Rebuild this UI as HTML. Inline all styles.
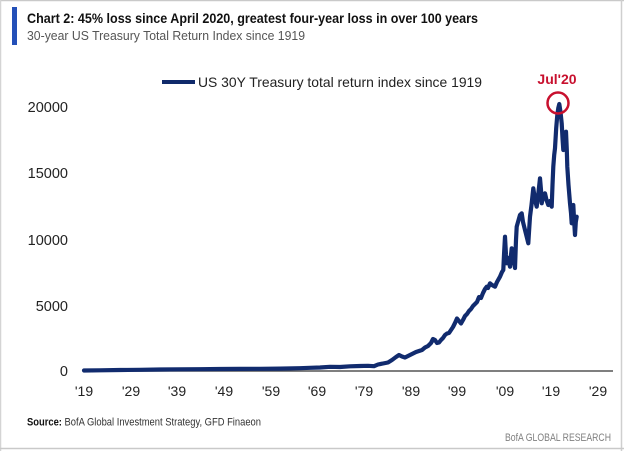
<!DOCTYPE html>
<html><head><meta charset="utf-8"><style>
html,body{margin:0;padding:0;background:#fff;}
svg{display:block;}
</style></head><body>
<svg width="624" height="451" viewBox="0 0 624 451" xmlns="http://www.w3.org/2000/svg">
<rect x="0" y="0" width="624" height="451" fill="#fff"/>
<!-- frame -->
<line x1="0" y1="0.5" x2="624" y2="0.5" stroke="#c9c9c9" stroke-width="1.5"/>
<line x1="0.5" y1="0" x2="0.5" y2="451" stroke="#d4d4d4" stroke-width="1.5"/>
<line x1="621.5" y1="0" x2="621.5" y2="451" stroke="#cfcfcf" stroke-width="1.5"/>
<line x1="0" y1="448.5" x2="624" y2="448.5" stroke="#c9c9c9" stroke-width="1.5"/>
<!-- title -->
<rect x="12" y="7" width="5" height="38" fill="#2450b8"/>
<text x="27" y="23" font-family="Liberation Sans, sans-serif" font-weight="bold" font-size="13.5" fill="#111" textLength="451" lengthAdjust="spacingAndGlyphs">Chart 2: 45% loss since April 2020, greatest four-year loss in over 100 years</text>
<text x="27" y="40" font-family="Liberation Sans, sans-serif" font-size="12.5" fill="#555" textLength="278" lengthAdjust="spacingAndGlyphs">30-year US Treasury Total Return Index since 1919</text>
<!-- legend -->
<line x1="162" y1="82" x2="195" y2="82" stroke="#102a6b" stroke-width="4"/>
<text x="198" y="87" font-family="Liberation Sans, sans-serif" font-size="14" fill="#222" textLength="284" lengthAdjust="spacingAndGlyphs">US 30Y Treasury total return index since 1919</text>
<!-- y labels -->
<g font-family="Liberation Sans, sans-serif" font-size="14.5" fill="#222" text-anchor="end">
<text x="68" y="112">20000</text>
<text x="68" y="178">15000</text>
<text x="68" y="245">10000</text>
<text x="68" y="311">5000</text>
<text x="68" y="376">0</text>
</g>
<!-- baseline -->
<line x1="83" y1="371" x2="613" y2="371" stroke="#555" stroke-width="1.5"/>
<!-- x labels -->
<g font-family="Liberation Sans, sans-serif" font-size="14" fill="#222" text-anchor="middle">
<text x="84" y="396">'19</text>
<text x="131" y="396">'29</text>
<text x="177" y="396">'39</text>
<text x="224" y="396">'49</text>
<text x="271" y="396">'59</text>
<text x="317" y="396">'69</text>
<text x="364" y="396">'79</text>
<text x="411" y="396">'89</text>
<text x="457" y="396">'99</text>
<text x="505" y="396">'09</text>
<text x="551" y="396">'19</text>
<text x="598" y="396">'29</text>
</g>
<!-- series -->
<polyline fill="none" stroke="#112b6e" stroke-width="4.2" stroke-linejoin="round" stroke-linecap="round" points="84,370.5 100,370.3 120,370 140,369.8 160,369.5 180,369.3 200,369.2 220,369 240,368.9 260,368.8 280,368.6 300,368.2 310,367.8 320,367.5 330,366.8 340,367 350,366.3 360,366 368,365.8 374,366.2 378,364.5 383,363.5 388,362.5 392,360 396,357 399,355 402,356.5 405,357.5 408,356 412,354 416,352 419,351 422,350 425,347.5 428,346 431,343 433,339 435,340 437,343 439,342.5 441,340 443,338 445,335 447,333.5 449,333 451,330 453,327 455,323 457,318.5 459,321 461,323.5 463,320 465,316 467,314 469,311 471,309 473,306 475,304 477,302 479,297 481,298 483,293 485,289 486.7,286.7 488,288 490,283.3 492,285 495,286.7 497,282 500,276.7 502,272 503.3,270 504,255 505,236.7 506,255 506.7,263.3 508.3,258 509,262 510,266.7 511,255 511.7,248.3 512.5,252 513.3,256.7 514,262 515,268 516,240 516.7,226.7 518,222 520,215 521.7,213.3 523,222 525,230 527,238 528.3,243.3 529,232 530,216.7 531.5,205 533.3,188.3 535,200 536.7,206.7 538.5,192 540,178.3 541,190 541.7,203.3 543,197 545,193.3 546.5,200 548.3,205 550,201 551.7,206.7 552.5,185 553.3,166.7 554.2,155 555,148.3 556.2,128 557.3,115 558.3,108 559.3,104 560.5,112 561.7,123.3 562.5,138 563.3,150 564.5,138 566,131.7 566.8,150 567.3,166.7 568.5,185 570,203.3 571,213 571.7,223.3 572.5,212 573.3,205 574.2,222 575,235 575.8,222 576.7,216.7"/>
<!-- annotation -->
<circle cx="558" cy="103" r="10.5" fill="none" stroke="#c8102e" stroke-width="2.5"/>
<text x="557" y="84" font-family="Liberation Sans, sans-serif" font-weight="bold" font-size="14" fill="#c8102e" text-anchor="middle">Jul'20</text>
<!-- footer -->
<text x="27" y="425.5" font-family="Liberation Sans, sans-serif" font-size="11" fill="#333" textLength="234" lengthAdjust="spacingAndGlyphs"><tspan font-weight="bold" fill="#111">Source:</tspan> BofA Global Investment Strategy, GFD Finaeon</text>
<text x="505" y="441" font-family="Liberation Sans, sans-serif" font-size="11" fill="#808080" textLength="106" lengthAdjust="spacingAndGlyphs">BofA GLOBAL RESEARCH</text>
</svg>
</body></html>
